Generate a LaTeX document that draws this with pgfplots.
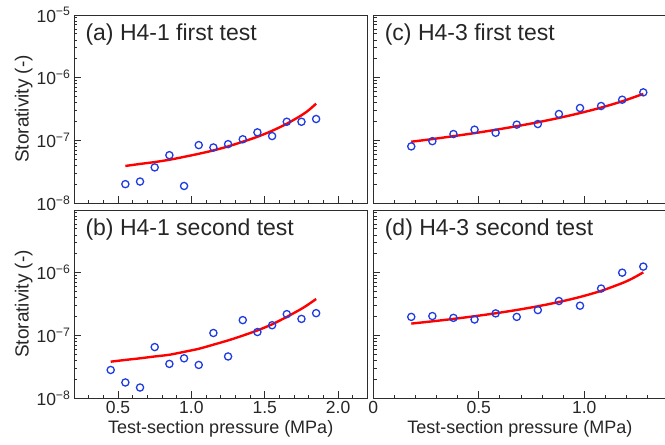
\documentclass[border=0pt]{standalone}
\usepackage{pgfplots}
\pgfplotsset{compat=1.18}
\usepackage{fontspec}
\setmainfont{Liberation Sans}
\definecolor{mblue}{RGB}{30,60,225}
\definecolor{axgray}{RGB}{45,45,45}
\pgfplotsset{
  mypanel/.style={
    scale only axis, height=188pt,
    ymin=1e-8, ymax=1e-5,
    ytick={1e-8,1e-7,1e-6,1e-5},
    minor ytick={2e-8,3e-8,4e-8,5e-8,6e-8,7e-8,8e-8,9e-8,2e-7,3e-7,4e-7,5e-7,6e-7,7e-7,8e-7,9e-7,2e-6,3e-6,4e-6,5e-6,6e-6,7e-6,8e-6,9e-6},
    tick align=inside, tick pos=left,
    major tick length=7pt, minor tick length=3.5pt,
    axis line style={axgray, line width=0.9pt},
    every tick/.style={axgray, line width=0.8pt},
    ticklabel style={font=\fontsize{17.5}{20}\selectfont, text=black!85},
    label style={font=\fontsize{18}{21}\selectfont, text=black!85},
    anchor=south west,
  },
  myleft/.style={mypanel, width=293.5pt, xmin=0.2, xmax=2.2,
    xtick={0.5,1.0,1.5,2.0}, minor xtick={0.3,0.4,0.6,0.7,0.8,0.9,1.1,1.2,1.3,1.4,1.6,1.7,1.8,1.9,2.1},
    ylabel={Storativity (-)}, ylabel shift=-3pt,
    ylabel style={font=\fontsize{19}{22}\selectfont}},
  myright/.style={mypanel, width=293.2pt, xmin=0, xmax=1.39,
    xtick={0,0.5,1.0}, minor xtick={0.1,0.2,0.3,0.4,0.6,0.7,0.8,0.9,1.1,1.2,1.3},
    yticklabels={}},
}
\tikzset{
  mypts/.style={only marks, mark=o, mark size=3.6pt, mark options={mblue, line width=1.3pt}},
  myfit/.style={no marks, red, line width=2.4pt, smooth},
  mytitle/.style={anchor=base west, font=\fontsize{23}{26}\selectfont, text=black!85, xshift=8pt, yshift=-25pt},
}
\begin{document}
\begin{tikzpicture}
\useasboundingbox (0,0) rectangle (665pt,445pt);
% (a)
\begin{semilogyaxis}[myleft, at={(74pt,242pt)}, xticklabels={},
  yticklabels={10\textsuperscript{−8},10\textsuperscript{−7},10\textsuperscript{−6},10\textsuperscript{−5}}]
\addplot[myfit] coordinates {(0.55,3.9e-8) (0.65,4.2e-8) (0.75,4.5e-8) (0.85,4.9e-8) (0.95,5.45e-8) (1.05,6.1e-8) (1.15,6.9e-8) (1.25,8.0e-8) (1.35,9.5e-8) (1.45,1.14e-7) (1.55,1.42e-7) (1.65,1.84e-7) (1.75,2.51e-7) (1.80,3.04e-7) (1.85,3.85e-7)};
\addplot[mypts] coordinates {(0.55,2.0e-8) (0.65,2.2e-8) (0.75,3.7e-8) (0.85,5.8e-8) (0.95,1.87e-8) (1.05,8.4e-8) (1.15,7.7e-8) (1.25,8.7e-8) (1.35,1.04e-7) (1.45,1.34e-7) (1.55,1.17e-7) (1.65,1.98e-7) (1.75,1.98e-7) (1.85,2.19e-7)};
\node[mytitle] at (rel axis cs:0,1) {(a) H4-1 first test};
\end{semilogyaxis}
% (b)
\begin{semilogyaxis}[myleft, at={(74pt,47pt)}, xlabel={Test-section pressure (MPa)},
  xticklabels={0.5,1.0,1.5,2.0},
  yticklabels={10\textsuperscript{−8},10\textsuperscript{−7},10\textsuperscript{−6},}]
\addplot[myfit] coordinates {(0.45,3.8e-8) (0.55,4.05e-8) (0.65,4.3e-8) (0.75,4.6e-8) (0.85,4.9e-8) (0.95,5.45e-8) (1.05,6.1e-8) (1.15,7.1e-8) (1.25,8.3e-8) (1.35,9.9e-8) (1.45,1.2e-7) (1.55,1.5e-7) (1.65,1.97e-7) (1.75,2.65e-7) (1.80,3.15e-7) (1.85,3.8e-7)};
\addplot[mypts] coordinates {(0.45,2.8e-8) (0.55,1.77e-8) (0.65,1.47e-8) (0.75,6.5e-8) (0.85,3.5e-8) (0.95,4.3e-8) (1.05,3.37e-8) (1.15,1.09e-7) (1.25,4.6e-8) (1.35,1.75e-7) (1.45,1.13e-7) (1.55,1.45e-7) (1.65,2.18e-7) (1.75,1.83e-7) (1.85,2.26e-7)};
\node[mytitle] at (rel axis cs:0,1) {(b) H4-1 second test};
\end{semilogyaxis}
% (c)
\begin{semilogyaxis}[myright, at={(373.3pt,242pt)}, xticklabels={}]
\addplot[myfit] coordinates {(0.18,9.5e-8) (0.28,1.048e-7) (0.38,1.165e-7) (0.48,1.304e-7) (0.58,1.473e-7) (0.68,1.682e-7) (0.78,1.943e-7) (0.88,2.28e-7) (0.98,2.724e-7) (1.08,3.331e-7) (1.18,4.198e-7) (1.28,5.511e-7)};
\addplot[mypts] coordinates {(0.18,8.0e-8) (0.28,9.7e-8) (0.38,1.26e-7) (0.48,1.48e-7) (0.58,1.32e-7) (0.68,1.78e-7) (0.78,1.82e-7) (0.88,2.63e-7) (0.98,3.28e-7) (1.08,3.53e-7) (1.18,4.45e-7) (1.28,5.83e-7)};
\node[mytitle] at (rel axis cs:0,1) {(c) H4-3 first test};
\end{semilogyaxis}
% (d)
\begin{semilogyaxis}[myright, at={(373.3pt,47pt)}, xlabel={Test-section pressure (MPa)},
  xticklabels={0,0.5,1.0}]
\addplot[myfit] coordinates {(0.18,1.54e-7) (0.28,1.673e-7) (0.38,1.83e-7) (0.48,2.019e-7) (0.58,2.25e-7) (0.68,2.539e-7) (0.78,2.91e-7) (0.88,3.405e-7) (0.98,4.096e-7) (1.08,5.125e-7) (1.18,6.819e-7) (1.23,8.15e-7) (1.28,1.011e-6)};
\addplot[mypts] coordinates {(0.18,1.97e-7) (0.28,2.03e-7) (0.38,1.9e-7) (0.48,1.79e-7) (0.58,2.24e-7) (0.68,1.97e-7) (0.78,2.53e-7) (0.88,3.53e-7) (0.98,2.97e-7) (1.08,5.58e-7) (1.18,1.0e-6) (1.28,1.25e-6)};
\node[mytitle] at (rel axis cs:0,1) {(d) H4-3 second test};
\end{semilogyaxis}
\end{tikzpicture}
\end{document}
